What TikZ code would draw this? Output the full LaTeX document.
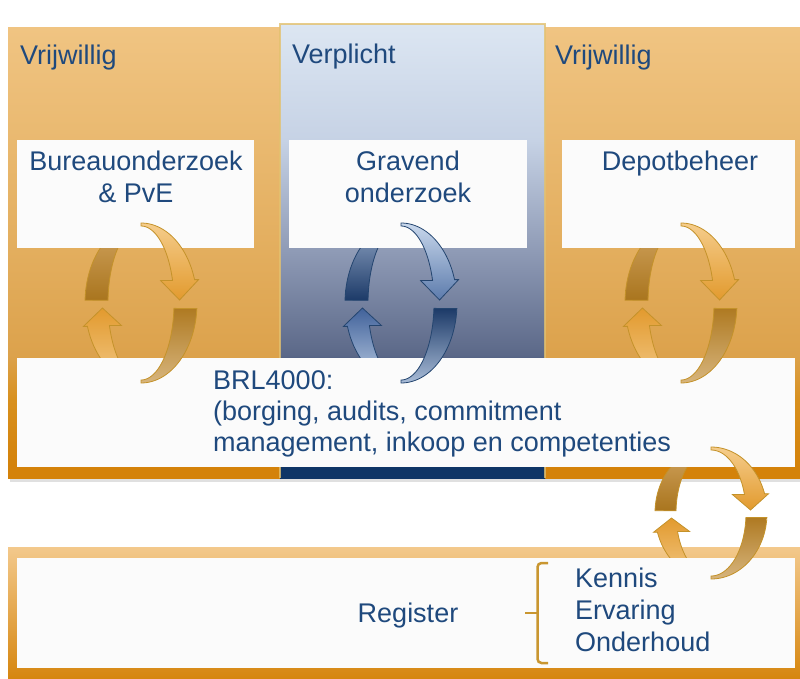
\documentclass[tikz,border=0pt]{standalone}
\usepackage{fontspec}
\setmainfont{Liberation Sans}
\definecolor{txt}{HTML}{1F497D}
\definecolor{boxw}{HTML}{FBFBFB}
\definecolor{oBand}{HTML}{D4820A}
\definecolor{oStrip}{HTML}{D8901E}
\definecolor{oLow}{HTML}{DCA24C}
\definecolor{oMid}{HTML}{E3AE5E}
\definecolor{oTop}{HTML}{F0C482}
\definecolor{bBand}{HTML}{0F3566}
\definecolor{bLow}{HTML}{5B6888}
\definecolor{bMid}{HTML}{8F9BB6}
\definecolor{bUp}{HTML}{C6D2E5}
\definecolor{bTop}{HTML}{DCE6F2}
\definecolor{rTop}{HTML}{F3C98C}
\definecolor{rBot}{HTML}{D6860F}
\definecolor{goldEdge}{HTML}{E3C16F}
\definecolor{braceC}{HTML}{C99630}
\definecolor{oLine}{HTML}{C4922A}
\definecolor{bLine}{HTML}{24456F}
\definecolor{oA1}{HTML}{F5CD8C}\definecolor{oA2}{HTML}{E29A2E}
\definecolor{oB1}{HTML}{AF7A22}\definecolor{oB2}{HTML}{D7B57D}
\definecolor{oC1}{HTML}{D2A460}\definecolor{oC2}{HTML}{A9751E}
\definecolor{oD1}{HTML}{E29A2E}\definecolor{oD2}{HTML}{F2C886}
\definecolor{bA1}{HTML}{C9D8EC}\definecolor{bA2}{HTML}{5C7BAC}
\definecolor{bB1}{HTML}{1C3A68}\definecolor{bB2}{HTML}{A9BCD7}
\definecolor{bC1}{HTML}{93A7C6}\definecolor{bC2}{HTML}{1C3A68}
\definecolor{bD1}{HTML}{41629A}\definecolor{bD2}{HTML}{BCCDE4}
\pgfdeclareverticalshading{colO}{100bp}{color(0bp)=(oBand); color(25bp)=(oBand); color(26.3bp)=(oBand); color(33.6bp)=(oStrip); color(38.6bp)=(oLow); color(50.3bp)=(oMid); color(75bp)=(oTop); color(100bp)=(oTop)}
\pgfdeclareverticalshading{colB}{100bp}{color(0bp)=(bBand); color(25bp)=(bBand); color(36bp)=(bBand); color(38.5bp)=(bLow); color(50.1bp)=(bMid); color(62.2bp)=(bUp); color(75bp)=(bTop); color(100bp)=(bTop)}
\newcommand{\ringset}[5]{%
  \def\RCx{#1}\def\RCy{#2}\def\ROx{#3}\def\ROy{#4}%
  \pgfmathsetmacro\RIx{#3-#5}\pgfmathsetmacro\RIy{#4-3}%
  \pgfmathsetmacro\HOx{\ROx*cos(17)}\pgfmathsetmacro\HOy{\ROy*sin(17)}%
  \pgfmathsetmacro\HIx{\RIx*cos(17)}\pgfmathsetmacro\HIy{\RIy*sin(17)}%
  \pgfmathsetmacro\HMx{(\HOx+\HIx)/2}%
}
\newcommand{\ringfront}[1]{%
  \path[ring#1tr] plot[domain=-90:-17,samples=40,variable=\t] ({\RCx+\ROx*cos(\t)},{\RCy+\ROy*sin(\t)})
    -- ({\RCx+\HOx+4},{\RCy-\HOy}) -- ({\RCx+\HMx-4},{\RCy-3}) -- ({\RCx+\HIx-12},{\RCy-\HIy})
    -- plot[domain=-17:-90,samples=40,variable=\t] ({\RCx+\RIx*cos(\t)},{\RCy+\RIy*sin(\t)}) -- cycle;
  \path[ring#1br] plot[domain=4:90,samples=40,variable=\t] ({\RCx+\ROx*cos(\t)},{\RCy+\ROy*sin(\t)})
    -- plot[domain=90:4,samples=40,variable=\t] ({\RCx+\RIx*cos(\t)},{\RCy+\RIy*sin(\t)}) -- cycle;
}
\newcommand{\ringback}[1]{%
  \path[ring#1tl] plot[domain=182:270,samples=40,variable=\t] ({\RCx+\ROx*cos(\t)},{\RCy+\ROy*sin(\t)})
    -- plot[domain=270:182,samples=40,variable=\t] ({\RCx+\RIx*cos(\t)},{\RCy+\RIy*sin(\t)}) -- cycle;
  \path[ring#1bl] plot[domain=90:163,samples=40,variable=\t] ({\RCx+\ROx*cos(\t)},{\RCy+\ROy*sin(\t)})
    -- ({\RCx-\HOx-4},{\RCy+\HOy}) -- ({\RCx-\HMx+4},{\RCy+5}) -- ({\RCx-\HIx+12},{\RCy+\HIy})
    -- plot[domain=163:90,samples=40,variable=\t] ({\RCx+\RIx*cos(\t)},{\RCy+\RIy*sin(\t)}) -- cycle;
}
\begin{document}
\begin{tikzpicture}[x=1pt,y=-1pt,
  lab/.style={text=txt, font=\fontsize{27}{32}\selectfont, inner sep=0pt},
  wbox/.style={fill=boxw},
  ringOtr/.style={top color=oA1, bottom color=oA2, draw=oLine, line width=0.8pt},
  ringObr/.style={top color=oB1, bottom color=oB2, draw=oLine, line width=0.8pt},
  ringOtl/.style={top color=oC1, bottom color=oC2, draw=oLine, line width=0.8pt},
  ringObl/.style={top color=oD1, bottom color=oD2, draw=oLine, line width=0.8pt},
  ringBtr/.style={top color=bA1, bottom color=bA2, draw=bLine, line width=0.8pt},
  ringBbr/.style={top color=bB1, bottom color=bB2, draw=bLine, line width=0.8pt},
  ringBtl/.style={top color=bC1, bottom color=bC2, draw=bLine, line width=0.8pt},
  ringBbl/.style={top color=bD1, bottom color=bD2, draw=bLine, line width=0.8pt}]
\useasboundingbox (0,0) rectangle (800,678);
\fill[white] (0,0) rectangle (800,678);
% shadow under top panel
\fill[black, opacity=0.12] (10,478) rectangle (800,482);
% columns
\shade[shading=colO] (8,27) rectangle (280,478);
\shade[shading=colO] (545,27) rectangle (800,478);
\shade[shading=colB] (280,24) rectangle (545,478);
\draw[goldEdge, line width=2pt, opacity=0.8] (280,478) -- (280,24) -- (545,24) -- (545,478);
% register panel border
\shade[top color=rTop, bottom color=rBot] (8,547) rectangle (800,678);
% rings, back parts
\ringset{141}{303}{56}{80}{23}\ringback{O}
\ringset{401}{303}{56}{80}{23}\ringback{B}
\ringset{681}{303}{56}{80}{23}\ringback{O}
\ringset{711}{513}{56}{66}{21}\ringback{O}
% white boxes
\fill[wbox] (17,140) rectangle (254,248);
\fill[wbox] (289,140) rectangle (527,248);
\fill[wbox] (562,140) rectangle (795,248);
\fill[wbox] (17,358) rectangle (795,467);
\fill[wbox] (17,558) rectangle (795,668);
% rings, front parts
\ringset{141}{303}{56}{80}{23}\ringfront{O}
\ringset{401}{303}{56}{80}{23}\ringfront{B}
\ringset{681}{303}{56}{80}{23}\ringfront{O}
\ringset{711}{513}{56}{66}{21}\ringfront{O}
% texts
\node[lab, anchor=base west] (h1) at (20,64) {Vrijwillig};
\node[lab, anchor=base west] (h2) at (292,63) {Verplicht};
\node[lab, anchor=base west] (h3) at (555,64) {Vrijwillig};
\node[lab, anchor=base, align=center] (t1) at (136,202) {Bureauonderzoek\\\& PvE};
\node[lab, anchor=base, align=center] (t2) at (408,202) {Gravend\\onderzoek};
\node[lab, anchor=base, align=center] (t3) at (680,170) {Depotbeheer};
\node[lab, anchor=base west, align=left, font=\fontsize{27}{31}\selectfont] (brl) at (213,451)
  {BRL4000:\\(borging, audits, commitment\\management, inkoop en competenties};
\node[lab, anchor=base] (reg) at (408,622) {Register};
\node[lab, anchor=base west, align=left] (kev) at (575,651) {Kennis\\Ervaring\\Onderhoud};
% brace
\coordinate (bt) at (548,563);
\coordinate (bb) at (548,663);
\coordinate (bm) at (525,613);
\draw[braceC, line width=2.5pt, rounded corners=4pt] (bt) -- (537.5,563) -- (537.5,663) -- (bb);
\draw[braceC, line width=2.5pt] (537.5,613) -- (bm);
\end{tikzpicture}
\end{document}
